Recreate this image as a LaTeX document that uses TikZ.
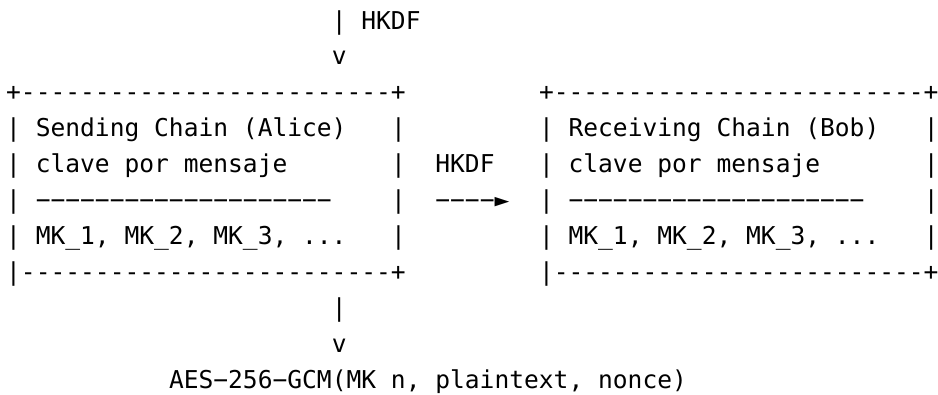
\documentclass[tikz,border=0pt]{standalone}
\usepackage{fontspec}
\newfontfamily\asciimono[Ligatures=TeXOff]{DejaVu Sans Mono}
\tikzset{cell/.style={anchor=base west, inner sep=0pt, text=black, font=\asciimono\fontsize{24.58pt}{36pt}\selectfont}}

\begin{document}
\begin{tikzpicture}
[x=14.8pt, y=-35.9pt, every node/.style={cell}]
\useasboundingbox (-6pt,29pt) rectangle (932pt,-365pt);
\node (1) at (22,0) {|};
\node (2) at (24,0) {HKDF};
\node (3) at (22,1) {v};
\node (4) at (0,2) {+-------------------------+};
\node (5) at (36,2) {+-------------------------+};
\node (6) at (0,3) {| Sending Chain (Alice)};
\node (7) at (26,3) {|};
\node (8) at (36,3) {| Receiving Chain (Bob)};
\node (9) at (62,3) {|};
\node (10) at (0,4) {| clave por mensaje};
\node (11) at (26,4) {|};
\node (12) at (29,4) {HKDF};
\node (13) at (36,4) {| clave por mensaje};
\node (14) at (62,4) {|};
\node (15) at (0,5) {| −−−−−−−−−−−−−−−−−−−−};
\node (16) at (26,5) {|};
\node (17) at (29,5) {−−−−►};
\node (18) at (36,5) {| −−−−−−−−−−−−−−−−−−−−};
\node (19) at (62,5) {|};
\node (20) at (0,6) {| MK\_1, MK\_2, MK\_3, ...};
\node (21) at (26,6) {|};
\node (22) at (36,6) {| MK\_1, MK\_2, MK\_3, ...};
\node (23) at (62,6) {|};
\node (24) at (0,7) {|-------------------------+};
\node (25) at (36,7) {|-------------------------+};
\node (26) at (22,8) {|};
\node (27) at (22,9) {v};
\node (28) at (11,10) {AES−256−GCM(MK n, plaintext, nonce)};
\end{tikzpicture}
\end{document}
